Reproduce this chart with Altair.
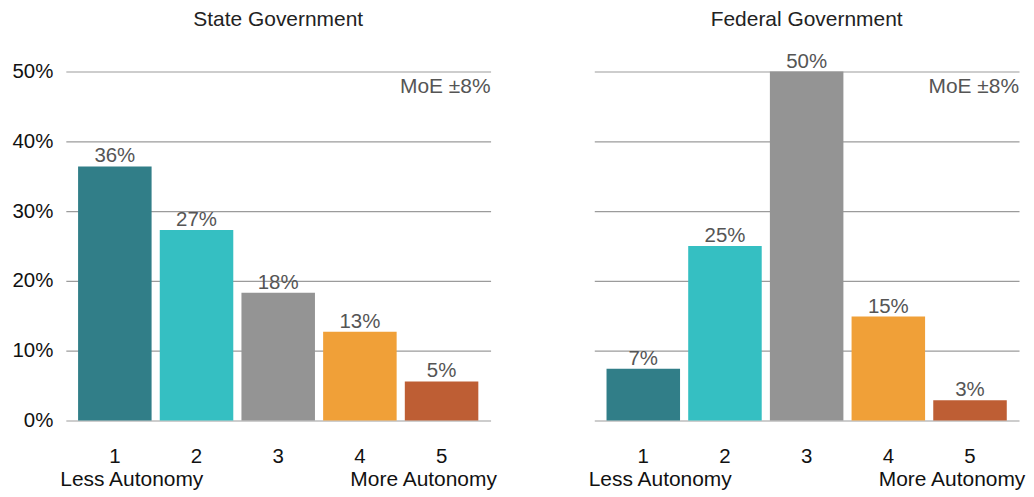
import altair as alt
import pandas as pd

categories = ["1", "2", "3", "4", "5"]
panels = ["State Government", "Federal Government"]
state_values = [36.4, 27.3, 18.3, 12.7, 5.6]
state_labels = ["36%", "27%", "18%", "13%", "5%"]
federal_values = [7.4, 25.0, 50.0, 14.9, 2.9]
federal_labels = ["7%", "25%", "50%", "15%", "3%"]
scale_ends = ["Less Autonomy", "", "", "", "More Autonomy"]
moe_note = "MoE ±8%"
y_ticks = [0, 5, 10, 15, 20, 25, 30, 35, 40, 45, 50]
bar_colors = ["#317E88", "#35BFC2", "#949494", "#F0A038", "#BE5E34"]

rows = []
for panel, vals, labs in zip(panels, [state_values, federal_values], [state_labels, federal_labels]):
    for i, c in enumerate(categories):
        rows.append({"panel": panel, "cat": c, "value": vals[i], "label": labs[i],
                     "end": scale_ends[i], "note": moe_note})
df = pd.DataFrame(rows)

FONT = "Liberation Sans"
FS = 21

x_scale = alt.Scale(domain=categories, paddingInner=0.1, paddingOuter=0.15)
x_enc = alt.X("cat:N", sort=categories, scale=x_scale,
              axis=alt.Axis(title=None, labelAngle=0, labelFontSize=20.5, labelColor="#111",
                            labelPadding=26, ticks=False, domain=False, grid=False))
y_enc = alt.Y("value:Q", scale=alt.Scale(domain=[0, 50], nice=False, zero=True),
              axis=alt.Axis(title=None, values=y_ticks,
                            labelExpr="datum.value % 10 == 0 ? datum.value + '%' : ''",
                            ticks=False, domain=False, gridColor="#9b9b9b", gridWidth=1.2,
                            labelFontSize=20.5, labelColor="#111", labelPadding=13))
x_plain = alt.X("cat:N", sort=categories, scale=x_scale)

bars = alt.Chart().mark_bar().encode(
    x=x_enc, y=y_enc,
    color=alt.Color("cat:N", scale=alt.Scale(domain=categories, range=bar_colors), legend=None),
)
values = alt.Chart().mark_text(baseline="alphabetic", dy=-4, fontSize=20.5, color="#555").encode(
    x=x_plain, y=alt.Y("value:Q"), text="label:N"
)
moe = alt.Chart().mark_text(align="right", baseline="middle", fontSize=FS, color="#555").encode(
    x=alt.value(426), y=alt.value(16), text="note:N"
).transform_filter("datum.cat == '1'")
less = alt.Chart().mark_text(baseline="middle", dx=17, fontSize=FS, color="#111").encode(
    x=x_plain, y=alt.value(410), text="end:N"
).transform_filter("datum.cat == '1'")
more = alt.Chart().mark_text(baseline="middle", dx=-18, fontSize=FS, color="#111").encode(
    x=x_plain, y=alt.value(410), text="end:N"
).transform_filter("datum.cat == '5'")

layered = alt.layer(bars, values, moe, less, more, data=df).properties(width=426, height=350)

chart = layered.facet(
    column=alt.Column("panel:N", sort=panels, title=None,
                      header=alt.Header(labelFontSize=FS, labelColor="#222", labelPadding=41.5,
                                        labelOrient="top")),
    spacing=104,
    bounds="flush",
).properties(
    padding={"left": 3, "top": 0, "right": 0, "bottom": 0}
).configure(font=FONT).configure_view(stroke=None)

chart.save("out.html", embed_options={"renderer": "svg", "actions": False})
